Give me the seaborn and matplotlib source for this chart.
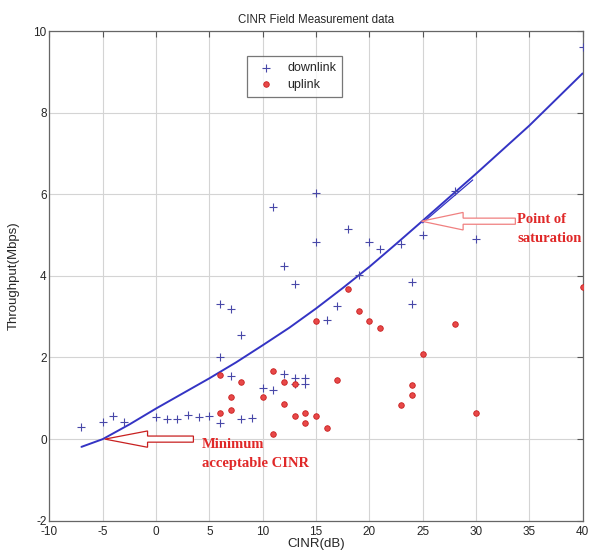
import numpy as np
import pandas as pd
import matplotlib
matplotlib.use("Agg")
import matplotlib.pyplot as plt
import seaborn as sns
from matplotlib.patches import FancyArrow

# data
dl_cinr = [-7, -5, -4, -3, 0, 1, 2, 3, 4, 5, 6, 6, 6, 7, 7, 8, 8, 9, 10, 11, 11,
           12, 12, 13, 13, 13, 14, 14, 15, 15, 16, 17, 18, 19, 20, 21, 23, 24, 24,
           25, 28, 30, 40]
dl_tput = [0.30, 0.42, 0.56, 0.42, 0.53, 0.49, 0.49, 0.59, 0.53, 0.56, 0.40, 2.01,
           3.30, 3.20, 1.54, 2.54, 0.49, 0.51, 1.25, 1.20, 5.70, 4.23, 1.60, 3.81,
           1.50, 1.36, 1.50, 1.36, 6.02, 4.82, 2.93, 3.26, 5.16, 4.03, 4.82, 4.67,
           4.79, 3.84, 3.32, 5.00, 6.09, 4.90, 9.62]

ul_cinr = [6, 6, 7, 7, 8, 10, 11, 11, 12, 12, 13, 13, 14, 14, 15, 15, 16, 17, 18,
           19, 20, 21, 23, 24, 24, 25, 28, 30, 40]
ul_tput = [1.56, 0.63, 1.02, 0.72, 1.40, 1.03, 1.67, 0.12, 1.40, 0.87, 1.34, 0.56,
           0.63, 0.40, 0.56, 2.90, 0.26, 1.44, 3.69, 3.15, 2.90, 2.72, 0.83, 1.32,
           1.08, 2.09, 2.81, 0.65, 3.72]

# fitted curve
fit_cinr = [-7, -5, -2.5, 0, 2.5, 5, 7.5, 10, 12.5, 15, 17.5, 20, 22.5, 25, 30, 35, 40]
fit_tput = [-0.19, 0.0, 0.36, 0.75, 1.12, 1.49, 1.88, 2.30, 2.73, 3.20, 3.70,
            4.22, 4.78, 5.35, 6.50, 7.68, 8.96]
# short second segment near the saturation point
seg_cinr = [25, 29.7]
seg_tput = [5.30, 6.35]

xticks = list(range(-10, 45, 5))
yticks = list(range(-2, 12, 2))

dl = pd.DataFrame({"CINR": dl_cinr, "Throughput": dl_tput})
ul = pd.DataFrame({"CINR": ul_cinr, "Throughput": ul_tput})
fit = pd.DataFrame({"CINR": fit_cinr, "Throughput": fit_tput})
seg = pd.DataFrame({"CINR": seg_cinr, "Throughput": seg_tput})

sns.set_style("white")
plt.rcParams["font.family"] = ["Liberation Sans", "DejaVu Sans"]
plt.rcParams["axes.unicode_minus"] = False

fig = plt.figure(figsize=(5.89, 5.58), dpi=100)
ax = fig.add_axes([0.084, 0.0668, 0.905, 0.8776])

blue = "#3434c4"
red = "#e02828"

sns.lineplot(data=fit, x="CINR", y="Throughput", sort=False, estimator=None,
             color=blue, lw=1.4, ax=ax, zorder=3)
sns.lineplot(data=seg, x="CINR", y="Throughput", sort=False, estimator=None,
             color=blue, lw=0.9, ax=ax, zorder=3)
sns.scatterplot(data=dl, x="CINR", y="Throughput", marker="+", color="#4848a8",
                s=40, linewidth=0.8, ax=ax, label="downlink", zorder=4)
sns.scatterplot(data=ul, x="CINR", y="Throughput", marker="o", color="#e84848",
                edgecolor="#c82020", s=16, linewidth=0.6, ax=ax, label="uplink",
                zorder=4)

ax.set_xlim(-10, 40)
ax.set_ylim(-2, 10)
ax.set_xticks(xticks)
ax.set_yticks(yticks)
ax.grid(True, color="#d4d4d4", lw=0.8)
ax.set_axisbelow(True)
ax.tick_params(direction="in", top=True, right=True, length=4, width=0.8,
               color="#555555", labelsize=8.5, pad=2)
ax.tick_params(axis="x", pad=4)
for s in ax.spines.values():
    s.set_color("#666666")
    s.set_linewidth(0.9)

ax.set_title("CINR Field Measurement data", fontsize=8.3, pad=6)
ax.set_xlabel("CINR(dB)", fontsize=9.5, labelpad=0)
ax.set_ylabel("Throughput(Mbps)", fontsize=9.5, labelpad=10)

leg = ax.legend(loc="upper left", bbox_to_anchor=(0.359, 0.962), fontsize=9,
                frameon=True, fancybox=False, edgecolor="#555555",
                handletextpad=0.7, borderpad=0.5, labelspacing=0.35)
leg.get_frame().set_linewidth(0.9)

# hollow block arrows + red annotations
ax.add_patch(FancyArrow(33.7, 5.34, -8.8, 0, width=0.15, head_width=0.43,
                        head_length=3.9, length_includes_head=True,
                        fc="white", ec="#f08080", lw=0.9, zorder=5))
ax.add_patch(FancyArrow(3.5, 0.0, -8.3, 0, width=0.15, head_width=0.4,
                        head_length=4.0, length_includes_head=True,
                        fc="white", ec="#c82020", lw=0.9, zorder=5))

tfont = dict(family=["Liberation Serif", "DejaVu Serif"], fontweight="bold",
             color=red, fontsize=10.5, ha="left", va="center", linespacing=1.6)
ax.text(33.9, 5.14, "Point of\nsaturation", **tfont)
ax.text(4.3, -0.36, "Minimum\nacceptable CINR", **tfont)

fig.savefig("out.png", dpi=100)
